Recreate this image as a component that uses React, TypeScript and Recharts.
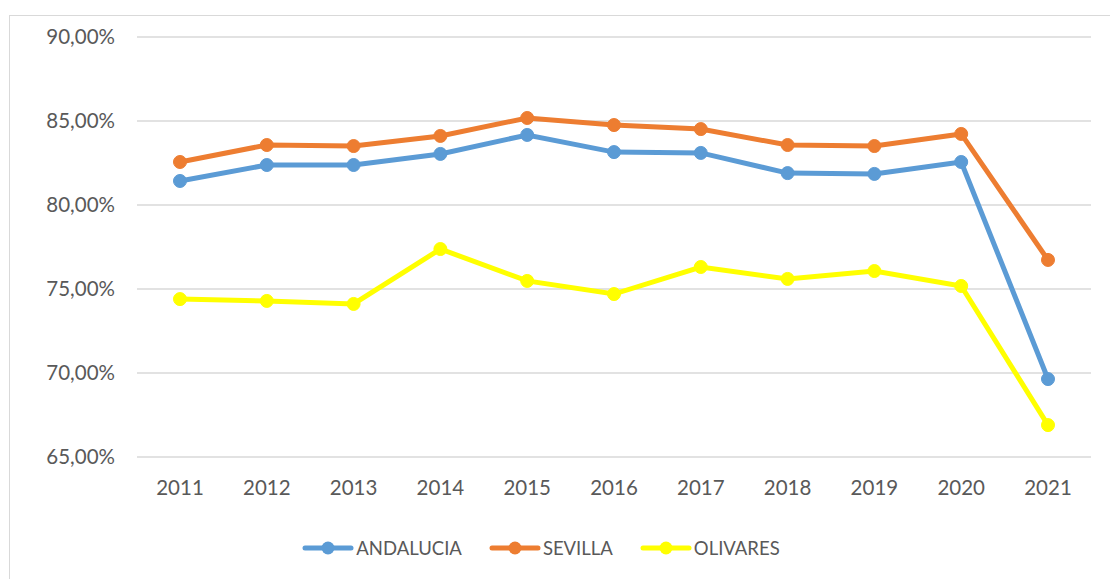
import { CartesianGrid, Line, LineChart, XAxis, YAxis } from "recharts";

const years = ["2011", "2012", "2013", "2014", "2015", "2016", "2017", "2018", "2019", "2020", "2021"];
const andalucia = [81.43, 82.38, 82.38, 83.04, 84.17, 83.15, 83.1, 81.9, 81.85, 82.56, 69.64];
const sevilla = [82.56, 83.57, 83.51, 84.11, 85.18, 84.76, 84.52, 83.57, 83.51, 84.23, 76.73];
const olivares = [74.4, 74.29, 74.11, 77.38, 75.48, 74.7, 76.31, 75.6, 76.07, 75.18, 66.9];
const yTicks = [65, 70, 75, 80, 85, 90];

const series = [
  { key: "ANDALUCIA", values: andalucia, color: "#5B9BD5" },
  { key: "SEVILLA", values: sevilla, color: "#ED7D31" },
  { key: "OLIVARES", values: olivares, color: "#FFFF00" },
];

const data = years.map((year, i) => ({
  year,
  ANDALUCIA: andalucia[i],
  SEVILLA: sevilla[i],
  OLIVARES: olivares[i],
}));

const font = "Lato, 'Open Sans', sans-serif";
const textColor = "#595959";

const pct = (v: number) => v.toFixed(2).replace(".", ",") + "%";

export default function App() {
  return (
    <div style={{ position: "absolute", left: 0, top: 0, width: 1110, height: 579, overflow: "hidden", background: "#fff", fontFamily: font }}>
      <div style={{ position: "absolute", left: 9, top: 15, width: 1200, height: 700, border: "1.5px solid #d9d9d9" }} />
      <div style={{ position: "absolute", left: 0, top: 0 }}>
        <LineChart width={1110} height={579} data={data} margin={{ top: 37, right: 19, left: 0, bottom: 72 }}>
          <CartesianGrid vertical={false} stroke="#d9d9d9" strokeWidth={1.5} />
          <XAxis
            dataKey="year"
            axisLine={false}
            tickLine={false}
            tickSize={0}
            tickMargin={23}
            height={50}
            interval={0}
            padding={{ left: 43, right: 43 }}
            tick={{ fill: textColor, fontSize: 20.5, fontFamily: font }}
          />
          <YAxis
            domain={[65, 90]}
            ticks={yTicks}
            axisLine={false}
            tickLine={false}
            tickSize={0}
            tickMargin={22}
            width={137}
            tickFormatter={pct}
            tick={{ fill: textColor, fontSize: 20.5, fontFamily: font }}
          />
          {series.map((s) => (
            <Line
              key={s.key}
              dataKey={s.key}
              stroke={s.color}
              strokeWidth={5}
              dot={{ r: 6.5, fill: s.color, stroke: s.color, strokeWidth: 1 }}
              isAnimationActive={false}
            />
          ))}
        </LineChart>
      </div>
      <div style={{ position: "absolute", left: 0, top: 534, width: 1082, display: "flex", justifyContent: "center", gap: 27, color: textColor, fontSize: 18.5 }}>
        {series.map((s) => (
          <div key={s.key} style={{ display: "flex", alignItems: "center", gap: 2 }}>
            <svg width={52} height={28}>
              <line x1={3} y1={14} x2={49} y2={14} stroke={s.color} strokeWidth={5} strokeLinecap="round" />
              <circle cx={26} cy={14} r={6.5} fill={s.color} />
            </svg>
            <span>{s.key}</span>
          </div>
        ))}
      </div>
    </div>
  );
}
